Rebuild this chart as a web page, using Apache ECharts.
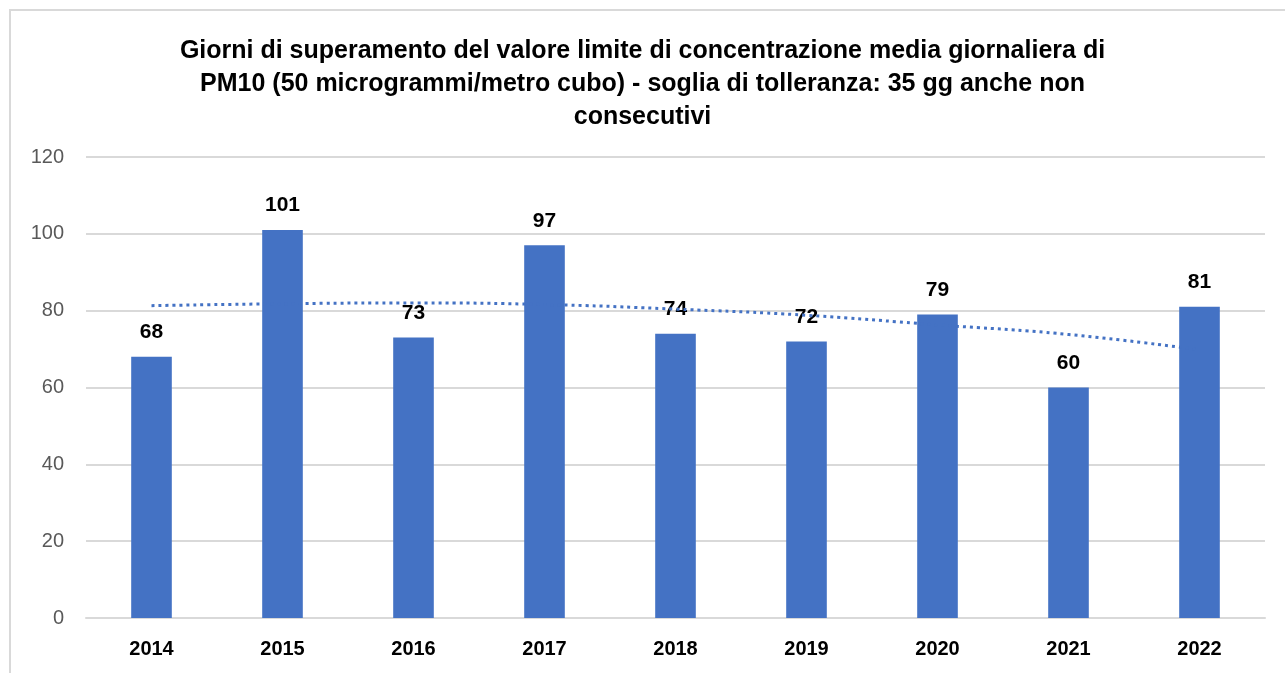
<!DOCTYPE html>
<html><head><meta charset="utf-8">
<script src="https://cdn.jsdelivr.net/npm/echarts@6/dist/echarts.min.js"></script>
<style>html,body{margin:0;padding:0;background:#fff}#c{width:1285px;height:673px}</style>
</head><body><div id="c"></div>
<script>
const categories = ['2014','2015','2016','2017','2018','2019','2020','2021','2022'];
const values = [68,101,73,97,74,72,79,60,81];
const trend = [81.3,81.8,82,81.6,80.4,78.8,76.3,73.8,69.8];
const yTicks = [0,20,40,60,80,100,120];
const titleText = 'Giorni di superamento del valore limite di concentrazione media giornaliera di\nPM10 (50 microgrammi/metro cubo) - soglia di tolleranza: 35 gg anche non\nconsecutivi';

const chart = echarts.init(document.getElementById('c'));
chart.setOption({
  animation:false,
  backgroundColor:'#fff',
  graphic:[{type:'rect',shape:{x:10,y:10,width:1300,height:700},style:{fill:'none',stroke:'#d9d9d9',lineWidth:2},silent:true}],
  title:{text:titleText,left:'center',top:30,textStyle:{fontFamily:'Liberation Sans',fontWeight:'bold',fontSize:25,lineHeight:33,color:'#000'}},
  grid:{left:86,right:20,top:157,bottom:55,containLabel:false},
  xAxis:{type:'category',data:categories,axisTick:{show:false},axisLine:{lineStyle:{color:'#d9d9d9',width:2}},
    axisLabel:{fontFamily:'Liberation Sans',fontWeight:'bold',fontSize:20,color:'#000',margin:21}},
  yAxis:{type:'value',min:0,max:120,interval:20,axisLine:{show:false},axisTick:{show:false},
    splitLine:{lineStyle:{color:'#d9d9d9',width:2}},
    axisLabel:{fontFamily:'Liberation Sans',fontSize:20,color:'#595959',margin:22,
      formatter:v=>yTicks.includes(v)?String(v):''}},
  series:[
    {type:'bar',data:values,barWidth:'31%',itemStyle:{color:'#4472c4'},
      label:{show:true,position:'top',distance:14,fontFamily:'Liberation Sans',fontWeight:'bold',fontSize:21,color:'#000'}},
    {type:'line',data:trend,smooth:true,symbol:'none',z:5,
      lineStyle:{color:'#4472c4',width:3,type:[3,4]}}
  ]
});
</script></body></html>
